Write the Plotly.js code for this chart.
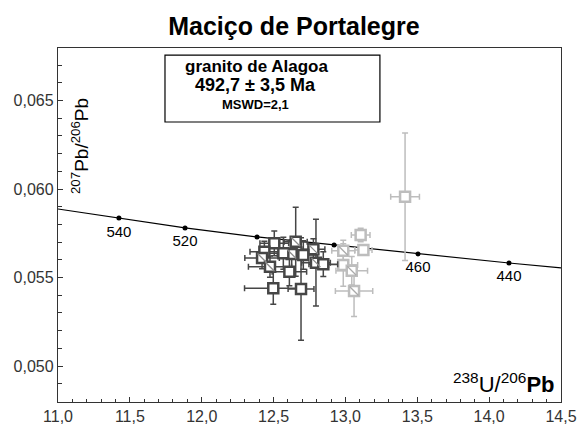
<!DOCTYPE html>
<html>
<head>
<meta charset="utf-8">
<script src="https://cdn.plot.ly/plotly-3.0.1.min.js"></script>
<style>html,body{margin:0;padding:0;background:#fff}#chart{width:582px;height:426px}</style>
</head>
<body>
<div id="chart"></div>
<script>
// Concordia curve (Tera-Wasserburg)
const concordiaX = [11.0, 11.424, 11.884, 12.385, 12.921, 13.505, 14.138, 14.5];
const concordiaY = [0.05887, 0.05836, 0.05780, 0.05729, 0.05684, 0.05633, 0.05582, 0.05554];
const markerX = [11.424, 11.884, 12.385, 12.921, 13.505, 14.138];
const markerY = [0.05836, 0.05780, 0.05729, 0.05684, 0.05633, 0.05582];
const ageLabels = ['540', '520', '', '', '460', '440'];

// Analyses used in the age (dark)
const darkX  = [12.505, 12.654, 12.436, 12.420, 12.626, 12.777, 12.475, 12.610, 12.795, 12.846, 12.498, 12.691, 12.707, 12.568];
const darkY  = [0.05693, 0.05702, 0.05645, 0.05610, 0.05633, 0.05659, 0.05561, 0.05533, 0.05584, 0.05575, 0.05439, 0.05435, 0.05627, 0.05637];
const darkEx = [0.10, 0.08, 0.10, 0.12, 0.10, 0.08, 0.15, 0.12, 0.10, 0.10, 0.20, 0.09, 0.10, 0.10];
const darkEy = [0.0007, 0.00195, 0.0006, 0.0006, 0.0008, 0.0006, 0.0006, 0.0008, 0.00245, 0.0007, 0.0009, 0.0029, 0.0008, 0.0009];
const darkDiag = [0, 1, 0, 1, 1, 1, 1, 0, 1, 0, 0, 0, 0, 0];

// Excluded analyses (light)
const lightX  = [12.985, 13.106, 13.125, 12.985, 13.044, 13.060, 13.415];
const lightY  = [0.05651, 0.05740, 0.05655, 0.05571, 0.05538, 0.05424, 0.05956];
const lightEx = [0.08, 0.065, 0.06, 0.10, 0.11, 0.13, 0.10];
const lightEy = [0.0006, 0.00038, 0.0003, 0.0012, 0.0008, 0.00145, 0.0036];
const lightDiag = [1, 0, 0, 0, 1, 1, 0];

const titleText = 'Maciço de Portalegre';
const boxLines = ['granito de Alagoa', '492,7 ± 3,5 Ma', 'MSWD=2,1'];

function pick(arr, flags) { return arr.filter((v, i) => flags[i]); }

const DARK = '#464646', LIGHT = '#bdbdbd';
const FONT = 'Liberation Sans, Arial, sans-serif';

function pts(x, y, ex, ey, col) {
  return {
    x: x, y: y, type: 'scatter', mode: 'markers', hoverinfo: 'skip', showlegend: false,
    error_x: {type: 'data', array: ex, visible: true, color: col, thickness: 1.5, width: 3},
    error_y: {type: 'data', array: ey, visible: true, color: col, thickness: 1.5, width: 3},
    marker: {symbol: 'square', size: 10, color: '#ffffff', line: {color: col, width: 2.5}}
  };
}
function diag(x, y, flags, col) {
  return {
    x: pick(x, flags), y: pick(y, flags), type: 'scatter', mode: 'markers', hoverinfo: 'skip', showlegend: false,
    marker: {symbol: 'line-nw', size: 9, color: col, line: {color: col, width: 1.3}}
  };
}

const hasLabel = ageLabels.map(s => s.length > 0);

const data = [
  {x: concordiaX, y: concordiaY, type: 'scatter', mode: 'lines', line: {color: '#000', width: 1.2}, hoverinfo: 'skip', showlegend: false},
  {x: pick(markerX, hasLabel), y: pick(markerY, hasLabel), type: 'scatter', mode: 'markers+text', text: pick(ageLabels, hasLabel),
   textposition: 'bottom center', textfont: {family: FONT, size: 15, color: '#000'},
   marker: {size: 10, color: 'rgba(0,0,0,0)'}, hoverinfo: 'skip', showlegend: false},
  {x: markerX, y: markerY, type: 'scatter', mode: 'markers', marker: {symbol: 'circle', size: 5, color: '#000'}, hoverinfo: 'skip', showlegend: false},
  pts(lightX, lightY, lightEx, lightEy, LIGHT),
  diag(lightX, lightY, lightDiag, '#aaaaaa'),
  pts(darkX, darkY, darkEx, darkEy, DARK),
  diag(darkX, darkY, darkDiag, '#8a8a8a')
];

const layout = {
  width: 582, height: 426,
  margin: {l: 58, r: 21, t: 48, b: 24},
  paper_bgcolor: '#fff', plot_bgcolor: '#fff',
  separators: ',.',
  font: {family: FONT, color: '#333'},
  title: {text: '<b>' + titleText + '</b>', font: {family: FONT, size: 25, color: '#000'},
          xref: 'container', x: 0.505, xanchor: 'center', yref: 'container', y: 0.938, yanchor: 'middle'},
  xaxis: {range: [11, 14.5], dtick: 0.5, tick0: 11, tickformat: '.1f', showgrid: false, zeroline: false,
          showline: true, linecolor: '#333', linewidth: 1.2, mirror: true,
          ticks: 'inside', ticklen: 5, tickcolor: '#333', tickfont: {family: FONT, size: 16, color: '#333'},
          minor: {dtick: 0.1, ticks: 'inside', ticklen: 3, tickcolor: '#333', showgrid: false}},
  yaxis: {range: [0.047966, 0.067966], dtick: 0.005, tick0: 0.05, tickformat: '.3f', showgrid: false, zeroline: false,
          showline: true, linecolor: '#333', linewidth: 1.2, mirror: true,
          ticks: 'inside', ticklen: 5, tickcolor: '#333', tickfont: {family: FONT, size: 16, color: '#333'},
          minor: {dtick: 0.001, ticks: 'inside', ticklen: 4, tickcolor: '#333', showgrid: false}},
  shapes: [{type: 'rect', xref: 'paper', yref: 'paper', x0: 0.2127, x1: 0.640, y0: 0.791, y1: 0.980,
            line: {color: '#000', width: 1.2}, fillcolor: '#fff', layer: 'above'}],
  annotations: [
    {xref: 'paper', yref: 'paper', x: 0.395, y: 0.949, text: '<b>' + boxLines[0] + '</b>', showarrow: false,
     font: {family: FONT, size: 17, color: '#000'}, xanchor: 'center', yanchor: 'middle'},
    {xref: 'paper', yref: 'paper', x: 0.392, y: 0.895, text: '<b>' + boxLines[1] + '</b>', showarrow: false,
     font: {family: FONT, size: 18, color: '#000'}, xanchor: 'center', yanchor: 'middle'},
    {xref: 'paper', yref: 'paper', x: 0.392, y: 0.839, text: '<b>' + boxLines[2] + '</b>', showarrow: false,
     font: {family: FONT, size: 13, color: '#000'}, xanchor: 'center', yanchor: 'middle'},
    {xref: 'paper', yref: 'paper', x: 0.0437, y: 0.723, text: '<sup>207</sup>Pb/<sup>206</sup>Pb', showarrow: false,
     textangle: -90, font: {family: FONT, size: 19, color: '#000'}, xanchor: 'center', yanchor: 'middle'},
    {xref: 'paper', yref: 'paper', x: 0.992, y: 0.054, text: '<sup>238</sup>U/<sup>206</sup><b>Pb</b>', showarrow: false,
     font: {family: FONT, size: 22, color: '#000'}, xanchor: 'right', yanchor: 'middle'}
  ]
};

Plotly.newPlot('chart', data, layout, {staticPlot: true, displayModeBar: false});
</script>
</body>
</html>
